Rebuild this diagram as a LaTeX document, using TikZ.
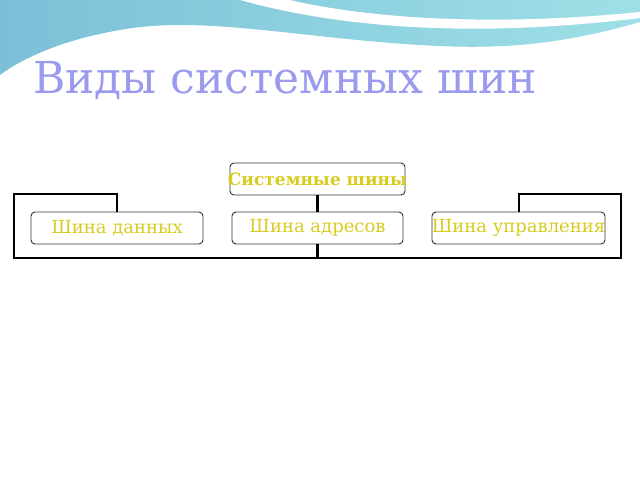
\documentclass[tikz,border=0pt]{standalone}
\usepackage{fontspec}
\setmainfont{DejaVu Serif}
\definecolor{ttl}{HTML}{9A9AEE}
\definecolor{ylw}{HTML}{D8CC20}
\definecolor{tealA}{HTML}{7CC0D8}
\definecolor{tealB}{HTML}{9EE0E6}
\begin{document}
\begin{tikzpicture}[x=1pt,y=-1pt,
  box/.style={draw=black!80,line width=0.9pt,rounded corners=4pt,fill=white,minimum width=172pt,minimum height=32pt,inner sep=0pt,text=ylw,font=\fontsize{18}{20}\selectfont},
  link/.style={line width=2.4pt}]
\useasboundingbox (0,0) rectangle (640,480);
\fill[white] (0,0) rectangle (640,480);
\shade[left color=tealA,right color=tealB] (0,0) -- (640,0) -- (640,22) .. controls (560,45) and (500,50) .. (420,45) .. controls (300,38) and (200,15) .. (120,30) .. controls (60,40) and (20,60) .. (0,75) -- cycle;
\fill[white] (240,0) .. controls (330,25) and (460,40) .. (640,18) -- (640,12) .. controls (460,30) and (340,12) .. (290,0) -- cycle;
\node[anchor=base west,text=ttl,font=\fontsize{44}{48}\selectfont,inner sep=0pt] (title) at (33,93) {Виды системных шин};
\node[box,minimum width=175pt,font=\fontsize{17}{19}\selectfont,inner xsep=-6pt] (root) at (317.5,179) {\textbf{Системные шины}};
\node[box] (a) at (117,228) {Шина данных};
\node[box,minimum width=171pt] (b) at (317.5,228) {Шина адресов};
\node[box,minimum width=173pt,inner xsep=-2pt] (c) at (518.5,228) {Шина управления};
\coordinate (j) at (317.5,258);
\draw[link] (root.south) -- (b.north);
\draw[link] (b.south) -- (j) -- (14,258) -- (14,194) -- (117,194) -- (a.north);
\draw[link] (j) -- (621,258) -- (621,194) -- (519,194) -- (c.north -| 519,0);
\end{tikzpicture}
\end{document}
